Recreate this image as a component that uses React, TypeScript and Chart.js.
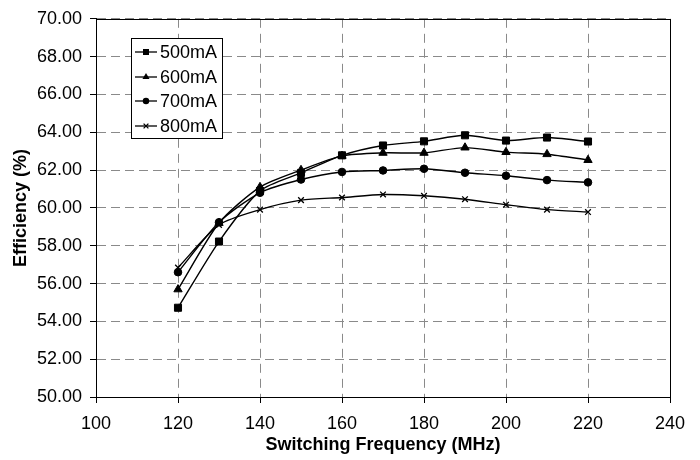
import React, { useEffect, useRef } from "react";
import { Chart, registerables } from "chart.js";

Chart.register(...registerables);

const frequencies = [120, 130, 140, 150, 160, 170, 180, 190, 200, 210, 220];
const seriesLabels = ["500mA", "600mA", "700mA", "800mA"];
const eff500 = [54.72, 58.22, 60.9, 61.85, 62.78, 63.3, 63.52, 63.84, 63.56, 63.72, 63.51];
const eff600 = [55.69, 59.2, 61.1, 62.0, 62.75, 62.91, 62.91, 63.19, 62.95, 62.84, 62.53];
const eff700 = [56.6, 59.24, 60.8, 61.5, 61.9, 61.98, 62.07, 61.86, 61.7, 61.47, 61.35];
const eff800 = [56.84, 59.1, 59.91, 60.41, 60.55, 60.71, 60.64, 60.46, 60.17, 59.91, 59.78];
const pointStyles = ["rect", "triangle", "circle", "crossRot"];
const pointRadii = [5, 4.8, 3.8, 4];

const FONT = "'Liberation Sans', Arial, sans-serif";

function drawMarker(ctx: CanvasRenderingContext2D, style: string, x: number, y: number, r: number) {
  ctx.save();
  ctx.fillStyle = "#000";
  ctx.strokeStyle = "#000";
  ctx.lineWidth = 1.3;
  ctx.beginPath();
  if (style === "rect") {
    const s = Math.SQRT1_2 * r;
    ctx.rect(x - s, y - s, 2 * s, 2 * s);
    ctx.fill();
  } else if (style === "triangle") {
    const rad = Math.PI / 2;
    ctx.moveTo(x + Math.sin(0) * r, y - Math.cos(0) * r);
    ctx.lineTo(x + Math.sin(2 * Math.PI / 3) * r, y - Math.cos(2 * Math.PI / 3) * r);
    ctx.lineTo(x + Math.sin(4 * Math.PI / 3) * r, y - Math.cos(4 * Math.PI / 3) * r);
    ctx.closePath();
    ctx.fill();
    void rad;
  } else if (style === "circle") {
    ctx.arc(x, y, r, 0, Math.PI * 2);
    ctx.fill();
  } else {
    const d = r * Math.SQRT1_2;
    ctx.moveTo(x - d, y - d);
    ctx.lineTo(x + d, y + d);
    ctx.moveTo(x - d, y + d);
    ctx.lineTo(x + d, y - d);
    ctx.stroke();
  }
  ctx.restore();
}

const framePlugin = {
  id: "frameAndLegend",
  afterDraw(chart: any) {
    const { ctx, chartArea } = chart;
    ctx.save();
    ctx.strokeStyle = "#000";
    ctx.lineWidth = 1;
    ctx.strokeRect(
      Math.round(chartArea.left) + 0.5,
      Math.round(chartArea.top) + 0.5,
      Math.round(chartArea.right - chartArea.left),
      Math.round(chartArea.bottom - chartArea.top)
    );
    // legend box
    const bx = 131, by = 38, bw = 91, bh = 100;
    ctx.fillStyle = "#fff";
    ctx.fillRect(bx, by, bw, bh);
    ctx.strokeRect(bx + 0.5, by + 0.5, bw, bh);
    ctx.font = `18px ${FONT}`;
    ctx.textBaseline = "middle";
    ctx.textAlign = "left";
    const rows = [52, 77, 101, 126];
    seriesLabels.forEach((label, i) => {
      const y = rows[i];
      ctx.strokeStyle = "#000";
      ctx.lineWidth = 1.3;
      ctx.beginPath();
      ctx.moveTo(135, y);
      ctx.lineTo(157, y);
      ctx.stroke();
      drawMarker(ctx, pointStyles[i], 146, y, pointRadii[i] * 0.85);
      ctx.fillStyle = "#000";
      ctx.fillText(label, 160, y + 1);
    });
    ctx.restore();
  },
};

export default function App() {
  const canvasRef = useRef<HTMLCanvasElement | null>(null);

  useEffect(() => {
    document.body.style.margin = "0";
    const canvas = canvasRef.current;
    if (!canvas) return;
    const seriesValues = [eff500, eff600, eff700, eff800];
    const chart = new Chart(canvas, {
      type: "line",
      data: {
        datasets: seriesValues.map((vals, i) => ({
          label: seriesLabels[i],
          data: frequencies.map((f, j) => ({ x: f, y: vals[j] })),
          borderColor: "#000",
          backgroundColor: "#000",
          borderWidth: 1.4,
          pointStyle: pointStyles[i] as any,
          pointRadius: pointRadii[i],
          pointBorderWidth: i === 3 ? 1.3 : 1,
          pointBorderColor: "#000",
          pointBackgroundColor: "#000",
          tension: 0.25,
          fill: false,
        })),
      },
      options: {
        responsive: false,
        animation: false,
        devicePixelRatio: 1,
        layout: { padding: { left: 0, top: 14, right: 30, bottom: 0 } },
        plugins: {
          legend: { display: false },
          tooltip: { enabled: false },
          title: { display: false },
        },
        scales: {
          x: {
            type: "linear",
            min: 100,
            max: 240,
            ticks: {
              stepSize: 20,
              color: "#000",
              padding: 10,
              font: { family: FONT, size: 18 },
              maxRotation: 0,
            },
            grid: {
              color: "#8a8a8a",
              lineWidth: 1,
              tickLength: 6,
              tickColor: "#000",
              tickWidth: 1,
              tickBorderDash: [],
            },
            border: { display: true, color: "#000", width: 1, dash: [9, 6] },
            title: {
              display: true,
              text: "Switching Frequency (MHz)",
              color: "#000",
              font: { family: FONT, size: 18, weight: "bold" },
              padding: { top: 0, bottom: 4 },
            },
            afterFit: (scale: any) => {
              scale.height = 63;
            },
          },
          y: {
            type: "linear",
            min: 50,
            max: 70,
            ticks: {
              stepSize: 2,
              color: "#000",
              padding: 8,
              font: { family: FONT, size: 18 },
              callback: (v: any) => Number(v).toFixed(2),
            },
            grid: {
              color: "#8a8a8a",
              lineWidth: 1,
              tickLength: 6,
              tickColor: "#000",
              tickWidth: 1,
              tickBorderDash: [],
            },
            border: { display: true, color: "#000", width: 1, dash: [9, 5] },
            title: {
              display: true,
              text: "Efficiency (%)",
              color: "#000",
              font: { family: FONT, size: 18, weight: "bold" },
              padding: { top: 10, bottom: 0 },
            },
            afterFit: (scale: any) => {
              scale.width = 96;
            },
          },
        },
      },
      plugins: [framePlugin],
    });
    return () => chart.destroy();
  }, []);

  return (
    <div style={{ position: "absolute", left: 0, top: 0, width: 700, height: 460, background: "#fff" }}>
      <canvas ref={canvasRef} width={700} height={460} />
    </div>
  );
}
